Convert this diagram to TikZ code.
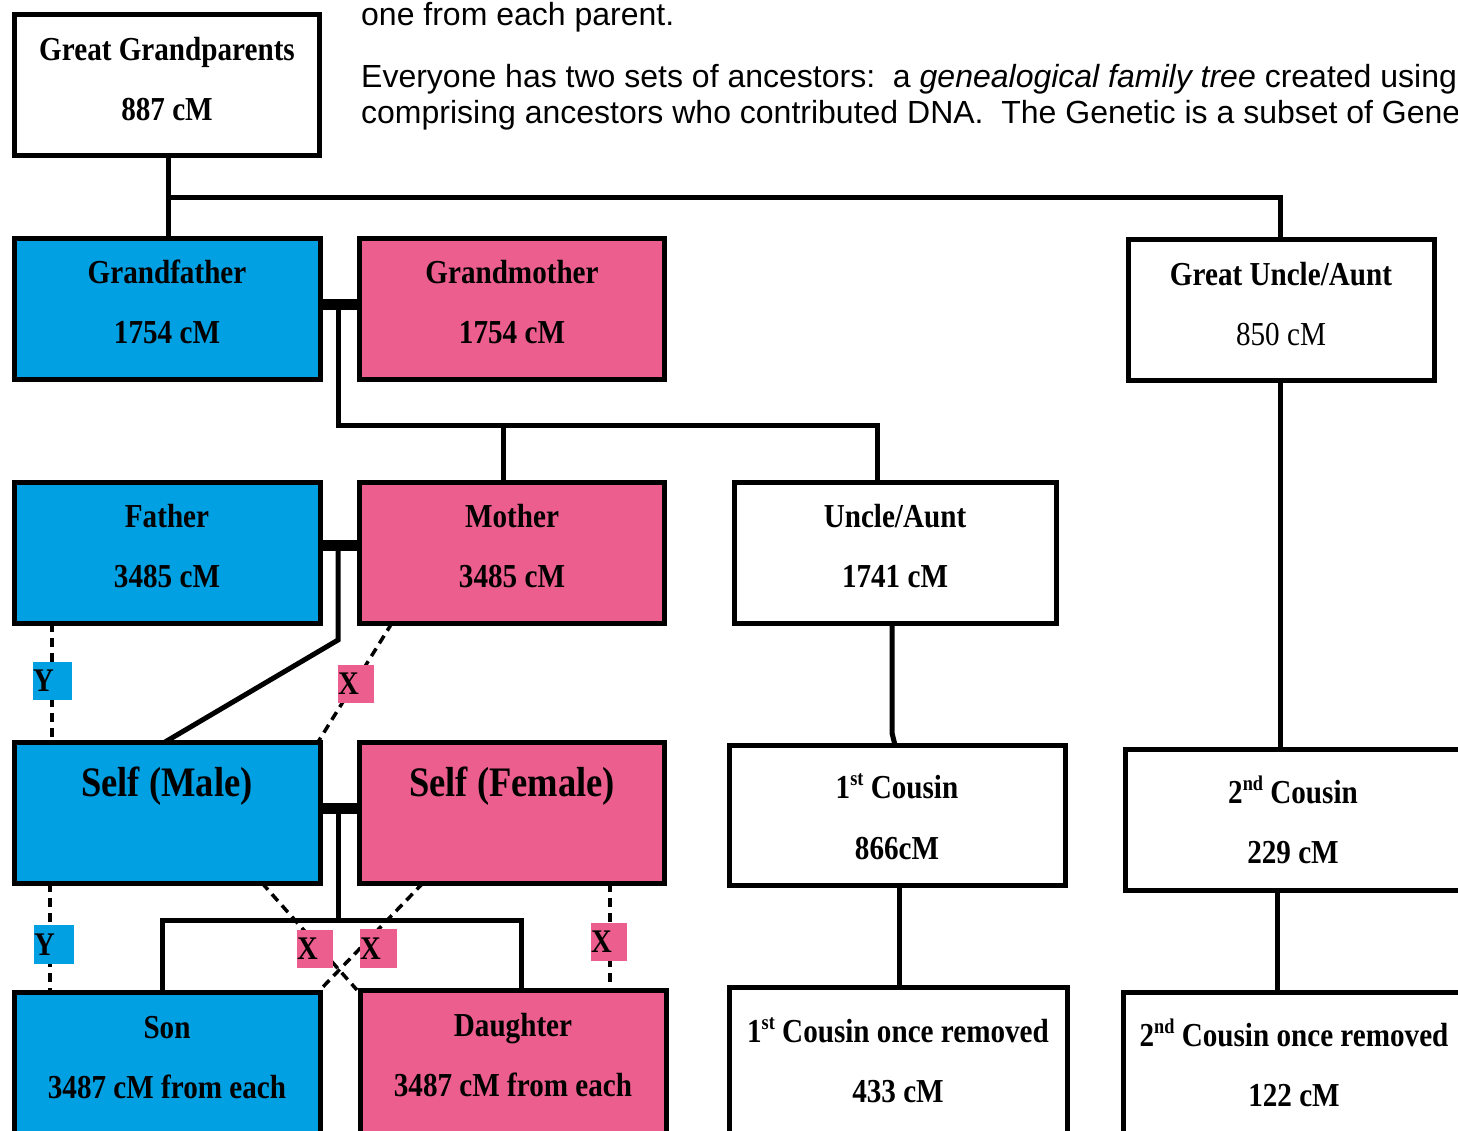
\documentclass[tikz,border=0pt]{standalone}
\usepackage{fontspec}
\setmainfont{Liberation Serif}
\newfontfamily\boxfont[FakeStretch=0.87]{Liberation Serif}
\newfontfamily\arialfont{Liberation Sans}
\definecolor{blueM}{RGB}{0,160,227}
\definecolor{pinkF}{RGB}{236,94,141}
\newcommand\sups[1]{\raisebox{0.38em}{\fontsize{21}{21}\selectfont #1}}
\begin{document}
\begin{tikzpicture}[x=1pt,y=-1pt,
  box/.style={draw=black,line width=5pt,rectangle,inner sep=0pt,outer sep=0pt},
  malebox/.style={box,fill=blueM},
  femalebox/.style={box,fill=pinkF},
  btxt/.style={anchor=base,inner sep=0pt,font=\boxfont\bfseries\fontsize{33.5}{36}\selectfont},
  selftxt/.style={anchor=base,inner sep=0pt,font=\boxfont\bfseries\fontsize{42}{46}\selectfont},
  toptxt/.style={anchor=base west,inner sep=0pt,font=\arialfont\fontsize{32}{37}\selectfont},
  conn/.style={draw=black,line width=5pt},
  bar/.style={draw=black,line width=11pt},
  dsh/.style={draw=black,line width=3.5pt,dash pattern=on 9pt off 6pt},
  lab/.style={inner sep=0pt,outer sep=0pt,align=left,font=\boxfont\bfseries\fontsize{33}{34}\selectfont},
]
\useasboundingbox (0,0) rectangle (1458,1130);
\fill[white] (0,0) rectangle (1458,1130);
\clip (0,0) rectangle (1458,1130);

% top text
\node[toptxt] (t1) at (361,25) {one from each parent.};
\node[toptxt] (t2) at (361,87) {Everyone has two sets of ancestors:\ \ a \textit{genealogical family tree} created using};
\node[toptxt] (t3) at (361,123) {comprising ancestors who contributed DNA.\ \ The Genetic is a subset of Gene};

% boxes
\node[box,minimum width=305,minimum height=141] (gg) at (166.5,84.5) {};
\node[malebox,minimum width=306,minimum height=141] (gf) at (167,308.5) {};
\node[femalebox,minimum width=305,minimum height=141] (gm) at (511.5,308.5) {};
\node[box,minimum width=306,minimum height=141] (gua) at (1281,309.5) {};
\node[malebox,minimum width=306,minimum height=141] (fa) at (167,552.5) {};
\node[femalebox,minimum width=305,minimum height=141] (mo) at (511.5,552.5) {};
\node[box,minimum width=322,minimum height=141] (ua) at (895,552.5) {};
\node[malebox,minimum width=306,minimum height=141] (sm) at (167,812.5) {};
\node[femalebox,minimum width=305,minimum height=141] (sf) at (511.5,812.5) {};
\node[box,minimum width=336,minimum height=140] (c1) at (897,815) {};
\node[box,minimum width=336,minimum height=141] (c2) at (1293,819.5) {};
\node[malebox,minimum width=306,minimum height=146] (son) at (167,1065) {};
\node[femalebox,minimum width=306,minimum height=148] (dau) at (513,1064) {};
\node[box,minimum width=338,minimum height=151] (c1r) at (898,1062.5) {};
\node[box,minimum width=341,minimum height=146] (c2r) at (1293.5,1065) {};

% box texts
\node[btxt] (gg1) at (167,60) {Great Grandparents};
\node[btxt] (gg2) at (167,120) {887 cM};
\node[btxt] (gf1) at (167,283) {Grandfather};
\node[btxt] (gf2) at (167,343) {1754 cM};
\node[btxt] (gm1) at (512,283) {Grandmother};
\node[btxt] (gm2) at (512,343) {1754 cM};
\node[btxt] (gua1) at (1281,285) {Great Uncle/Aunt};
\node[btxt,font=\boxfont\mdseries\fontsize{33.5}{36}\selectfont] (gua2) at (1281,345) {850 cM};
\node[btxt] (fa1) at (167,527) {Father};
\node[btxt] (fa2) at (167,587) {3485 cM};
\node[btxt] (mo1) at (512,527) {Mother};
\node[btxt] (mo2) at (512,587) {3485 cM};
\node[btxt] (ua1) at (895,527) {Uncle/Aunt};
\node[btxt] (ua2) at (895,587) {1741 cM};
\node[selftxt] (sm1) at (167,796) {Self (Male)};
\node[selftxt] (sf1) at (512,796) {Self (Female)};
\node[btxt] (c11) at (897,798) {1\sups{st} Cousin};
\node[btxt] (c12) at (897,859) {866cM};
\node[btxt] (c21) at (1293,803) {2\sups{nd} Cousin};
\node[btxt] (c22) at (1293,863) {229 cM};
\node[btxt] (son1) at (167,1038) {Son};
\node[btxt] (son2) at (167,1098) {3487 cM from each};
\node[btxt] (dau1) at (513,1036) {Daughter};
\node[btxt] (dau2) at (513,1096) {3487 cM from each};
\node[btxt] (c1r1) at (898,1042) {1\sups{st} Cousin once removed};
\node[btxt] (c1r2) at (898,1102) {433 cM};
\node[btxt] (c2r1) at (1294,1046) {2\sups{nd} Cousin once removed};
\node[btxt] (c2r2) at (1294,1106) {122 cM};

% solid connectors
\draw[conn] (gg.south -| 168,0) -- (gf.north -| 168,0);
\draw[conn] (168,197) -| (gua.north -| 1280,0);
\coordinate (gpbar) at (338,304);
\draw[bar] (gf.east |- gpbar) -- (gm.west |- gpbar);
\draw[conn] (gpbar) -- (338,425) -| (ua.north -| 877,0);
\draw[conn] (mo.north -| 503,0) -- (503,425);
\coordinate (pbar) at (338,545);
\draw[bar] (fa.east |- pbar) -- (mo.west |- pbar);
\draw[conn] (pbar) -- (338,640) -- (sm.north -| 165,0);
\coordinate (sbar) at (338,808);
\draw[bar] (sm.east |- sbar) -- (sf.west |- sbar);
\draw[conn] (sbar) -- (338,920);
\draw[conn] (son.north -| 162,0) -- (162,920) -- (521,920) -- (dau.north -| 521,0);
\draw[conn] (ua.south -| 892,0) -- (892,733) -- (c1.north -| 895,0);
\draw[conn] (c1.south -| 899,0) -- (c1r.north -| 899,0);
\draw[conn] (gua.south -| 1280,0) -- (c2.north -| 1280,0);
\draw[conn] (c2.south -| 1277,0) -- (c2r.north -| 1277,0);

% dashed inheritance lines
\draw[dsh] (fa.south -| 52,0) -- (sm.north -| 52,0);
\draw[dsh] (mo.south -| 392,0) -- (sm.north -| 318,0);
\draw[dsh] (sm.south -| 50,0) -- (son.north -| 50,0);
\draw[dsh] (sm.south -| 262,0) -- (dau.north -| 357,0);
\draw[dsh] (sf.south -| 423,0) -- (son.north -| 318,0);
\draw[dsh] (sf.south -| 610,0) -- (dau.north -| 610,0);

% labels
\node[lab,fill=blueM,text width=39,minimum height=38] (ly1) at (52.5,681) {Y};
\node[lab,fill=pinkF,text width=36,minimum height=38] (lx1) at (356,684) {X};
\node[lab,fill=blueM,text width=40,minimum height=39] (ly2) at (54,944.5) {Y};
\node[lab,fill=pinkF,text width=36,minimum height=38] (lx2) at (315,949) {X};
\node[lab,fill=pinkF,text width=37,minimum height=39] (lx3) at (378.5,948.5) {X};
\node[lab,fill=pinkF,text width=36,minimum height=38] (lx4) at (609,942) {X};
\end{tikzpicture}
\end{document}
